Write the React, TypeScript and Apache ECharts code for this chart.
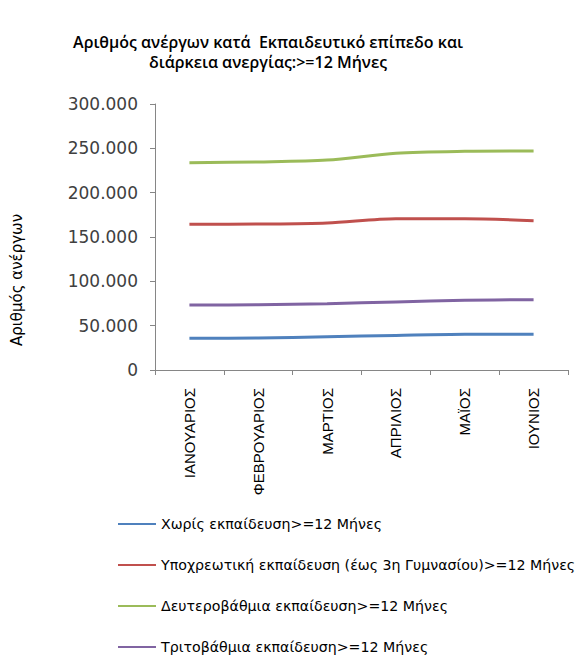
import React, { useEffect, useRef } from 'react';
import * as echarts from 'echarts';

const months = ['ΙΑΝΟΥΑΡΙΟΣ', 'ΦΕΒΡΟΥΑΡΙΟΣ', 'ΜΑΡΤΙΟΣ', 'ΑΠΡΙΛΙΟΣ', 'ΜΑΪΟΣ', 'ΙΟΥΝΙΟΣ'];
const seriesNames = [
  'Χωρίς εκπαίδευση>=12 Μήνες',
  'Υποχρεωτική εκπαίδευση (έως 3η Γυμνασίου)>=12 Μήνες',
  'Δευτεροβάθμια εκπαίδευση>=12 Μήνες',
  'Τριτοβάθμια εκπαίδευση>=12 Μήνες',
];
const noEducation = [35700, 36000, 37600, 39000, 40200, 40300];
const compulsory = [164300, 164600, 165800, 170700, 170700, 168400];
const secondary = [233800, 234700, 236800, 244400, 246600, 247000];
const tertiary = [73300, 73600, 74800, 76700, 78600, 79300];
const colors = ['#4F81BD', '#C0504D', '#9BBB59', '#8064A2'];
const titleText = 'Αριθμός ανέργων κατά  Εκπαιδευτικό επίπεδο και\nδιάρκεια ανεργίας:>=12 Μήνες';
const yAxisName = 'Αριθμός ανέργων';

export default function App() {
  const ref = useRef<HTMLDivElement>(null);
  useEffect(() => {
    document.body.style.margin = '0';
    const chart = echarts.init(ref.current!, null, { renderer: 'svg' });
    const data = [noEducation, compulsory, secondary, tertiary];
    chart.setOption({
      animation: false,
      backgroundColor: '#ffffff',
      title: {
        text: titleText,
        left: 263,
        top: 27,
        textAlign: 'center',
        textStyle: {
          fontFamily: 'Open Sans',
          fontSize: 16,
          fontWeight: 600,
          color: '#000000',
          lineHeight: 20,
        },
      },
      grid: { left: 155, right: 16, top: 104, bottom: 287 },
      xAxis: {
        type: 'category',
        data: months,
        boundaryGap: true,
        axisLine: { lineStyle: { color: '#868686', width: 1 } },
        axisTick: { show: true, length: 5, lineStyle: { color: '#868686' } },
        axisLabel: {
          rotate: 90,
          margin: 18,
          verticalAlign: 'middle',
          padding: [7, 0, 0, 0],
          fontFamily: 'Liberation Sans',
          fontSize: 15,
          color: '#000000',
        },
      },
      yAxis: {
        type: 'value',
        min: 0,
        max: 300000,
        interval: 50000,
        axisLine: { show: true, lineStyle: { color: '#868686', width: 1 } },
        axisTick: { show: true, length: 5, lineStyle: { color: '#868686' } },
        splitLine: { show: false },
        axisLabel: {
          margin: 17,
          fontFamily: 'DejaVu Sans',
          fontSize: 17,
          color: '#404040',
          formatter: (v: number) => (v === 0 ? '0' : `${Math.round(v / 1000)}.000`),
        },
      },
      legend: {
        orient: 'vertical',
        left: 118,
        top: 516,
        padding: 0,
        itemWidth: 38,
        itemHeight: 2,
        itemGap: 25,
        icon: 'rect',
        textStyle: { fontFamily: 'DejaVu Sans', fontSize: 14.2, lineHeight: 16, color: '#000000' },
        data: seriesNames,
      },
      graphic: [
        {
          type: 'text',
          x: 17,
          y: 280,
          rotation: Math.PI / 2,
          style: {
            text: yAxisName,
            fontFamily: 'DejaVu Sans',
            fontSize: 15,
            fill: '#000000',
            align: 'center',
            verticalAlign: 'middle',
          },
        },
      ],
      series: seriesNames.map((name, i) => ({
        name,
        type: 'line',
        data: data[i],
        smooth: 0.3,
        symbol: 'none',
        lineStyle: { color: colors[i], width: 3 },
        itemStyle: { color: colors[i] },
      })),
    });
    return () => chart.dispose();
  }, []);
  return <div ref={ref} style={{ position: 'absolute', left: 0, top: 0, width: 584, height: 657 }} />;
}
